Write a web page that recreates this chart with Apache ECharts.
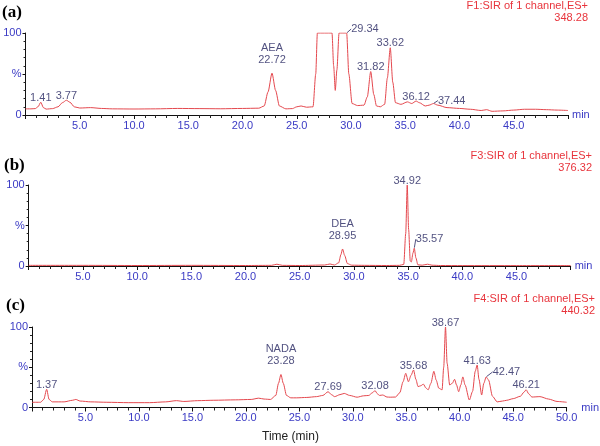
<!DOCTYPE html>
<html>
<head>
<meta charset="utf-8">
<script src="https://cdn.jsdelivr.net/npm/echarts@6/dist/echarts.min.js"></script>
<style>html,body{margin:0;padding:0;background:#fff;}#c{width:600px;height:446px;}</style>
</head>
<body>
<div id="c"></div>
<script>
// ---- Data (time in min, relative intensity %) ----
const timeA = [0.0,0.5,0.9,1.15,1.41,1.65,1.9,2.5,3.0,3.4,3.77,4.1,4.5,5.0,6.0,7.0,8.0,10.0,12.0,14.0,16.0,18.0,20.0,21.5,22.0,22.35,22.72,23.05,23.4,24.0,24.6,25.0,25.4,25.9,26.5,26.75,26.9,28.25,28.4,28.55,28.7,28.9,29.6,29.8,30.1,30.6,31.2,31.5,31.82,32.1,32.35,32.7,33.1,33.35,33.62,33.85,34.1,34.6,35.2,35.6,36.0,36.3,36.85,37.2,37.6,38.0,38.85,40.0,41.0,42.0,42.5,43.0,44.0,45.0,46.0,47.0,48.0,49.0,50.0];
const valA  = [7.5,7.5,7.8,10,15.5,9,7.2,7.8,10,15,18,15.5,10,8.5,9,8,7.5,7.3,7.5,8,7.8,7.6,8,8.3,11,28,51,30,11,7.5,7.8,10,11,9.5,10,50,100,100,60,30,55,100,100,50,14,11.5,12,22,53,25,11,10,13,45,82,40,15,13,16,14,17,15,11,12,14,12,9,8,7,5.5,6.5,4.5,5,6,7,7,6.5,6,5.5];

const timeB = [0,5,10,15,20,22.4,22.9,23.4,25,27.3,27.8,28.2,28.6,28.8,28.95,29.15,29.4,29.8,31,33,34.2,34.6,34.78,34.92,35.05,35.2,35.3,35.45,35.57,35.72,35.9,36.3,36.8,37.2,38,40,45,50];
const valB  = [0.8,0.8,0.6,0.8,0.6,0.8,2.2,0.8,0.6,1.2,2.5,1.2,4,14,21,13,3,1,0.8,0.6,0.8,2,40,100,45,6,5,16,22,10,1.5,1,2.2,1,0.6,0.5,0.5,0.5];

const timeC = [0,0.8,1.1,1.37,1.6,1.9,3.0,3.8,4.1,4.5,5.5,7,9,11,12.5,13.5,14.2,15.5,17,19,20.5,21.2,21.7,22.3,22.8,23.05,23.28,23.5,23.8,24.2,24.75,25.7,26.6,27.2,27.69,28.0,28.3,28.8,29.2,29.7,30.4,31.0,31.5,31.8,32.08,32.3,32.5,32.8,33.2,33.5,34.0,34.4,34.7,34.95,35.2,35.45,35.68,35.9,36.1,36.35,36.6,36.85,37.05,37.3,37.58,37.8,38.04,38.35,38.5,38.67,38.82,39.06,39.3,39.52,39.7,39.9,40.1,40.29,40.5,40.9,41.2,41.45,41.63,41.8,42.05,42.25,42.47,42.7,43.06,43.5,44.0,44.4,45.0,45.68,46.0,46.21,46.45,46.75,47.5,48.3,49.1,50];
const valC  = [6.5,6.5,10,22.6,10,7,7,9,10,8,7,6.5,6,6,7,8.5,7.5,8.5,9,9.5,10,11.6,10.5,10,15,30,41,30,15,12,12,12.5,13.5,15,19.6,16,13.5,16,17.5,15,12.8,14.5,15,18,21,17,15,15.5,13,12.8,13,18.5,32,42.5,32,40,46.6,35,26,27,29,24,22,30,45,34,24,22,50,100,55,28,30,35,28,19.6,28,38,28,9.3,20,45,52.8,35,15.5,30,38,34,14,7,8,9,11,14,19,22,17,13,13.5,10.5,7.5,6.5];

// Peak annotations
const peakTextA = ['1.41','3.77','AEA\n22.72','29.34','31.82','33.62','36.12','37.44'];
const peakTimeA = [1.41,3.77,22.72,29.6,31.82,33.62,36.0,37.6];
const peakValA  = [15.5,18,51,100,53,82,17,14];

const peakTextB = ['DEA\n28.95','34.92','35.57'];
const peakTimeB = [28.95,34.92,35.57];
const peakValB  = [21,100,22];

const peakTextC = ['1.37','NADA\n23.28','27.69','32.08','35.68','38.67','41.63','42.47','46.21'];
const peakTimeC = [1.37,23.28,27.69,32.08,35.68,38.67,41.63,42.47,46.21];
const peakValC  = [22.6,41,19.6,21,46.6,100,52.8,38,22];

// labels moved up-right of their peak, joined by a short leader line
const sideLabels = {'29.34': [4, -4], '37.44': [4, -3], '35.57': [1, -9], '42.47': [6, -5]};

const channelTitles = ['F1:SIR of 1 channel,ES+\n348.28','F3:SIR of 1 channel,ES+\n376.32','F4:SIR of 1 channel,ES+\n440.32'];
const panelLetters = ['(a)','(b)','(c)'];

// ---- Styles ----
const FONT = '"Liberation Sans", Arial, Helvetica, sans-serif';
const BLUE = '#3a3ac4';
const NAVY = '#262660';
const RED = '#e8343c';
const LINE = '#e4484e';

const zip = (t, v) => t.map((x, i) => [x, v[i]]);

const grids = [
  {left: 25.5, width: 542.5, top: 33, height: 82},
  {left: 28.7, width: 542, top: 185, height: 81},
  {left: 32, width: 541.5, top: 327, height: 80.5}
];

function xAxisFor(i, hide50) {
  return {
    type: 'value', gridIndex: i, min: 0, max: 50, interval: 5,
    name: 'min', nameLocation: 'end', nameGap: 4,
    nameTextStyle: {color: BLUE, fontSize: 11, fontFamily: FONT, verticalAlign: i===2 ? 'bottom' : 'middle', padding: i===2 ? [0,0,-6,0] : 0},
    axisLine: {show: true, onZero: false, lineStyle: {color: '#111', width: 1}},
    axisTick: {show: true, inside: false, length: 4, lineStyle: {color: '#111'}},
    minorTick: {show: true, splitNumber: 5, length: 3, lineStyle: {color: '#222'}},
    splitLine: {show: false},
    axisLabel: {color: BLUE, fontSize: 11, fontFamily: FONT, margin: 5,
      formatter: v => (v === 0 || (hide50 && v === 50)) ? '' : v.toFixed(1)}
  };
}
function yAxisFor(i) {
  return {
    type: 'value', gridIndex: i, min: 0, max: 100, interval: 50,
    axisLine: {show: true, lineStyle: {color: '#111', width: 1}},
    axisTick: {show: true, length: 3, lineStyle: {color: '#111'}},
    minorTick: {show: true, splitNumber: 5, length: 2, lineStyle: {color: '#222'}},
    splitLine: {show: false},
    axisLabel: {color: BLUE, fontSize: 11, fontFamily: FONT, margin: 4,
      formatter: v => v === 50 ? '%' : String(v)}
  };
}

function traceSeries(i, t, v) {
  return {
    type: 'line', xAxisIndex: i, yAxisIndex: i, data: zip(t, v),
    showSymbol: false, smooth: 0.25, smoothMonotone: 'x',
    lineStyle: {color: LINE, width: 1}, silent: true, z: 2
  };
}
function labelSeries(i, texts, t, v) {
  return {
    type: 'scatter', xAxisIndex: i, yAxisIndex: i, symbolSize: 1, silent: true, z: 5,
    itemStyle: {color: 'rgba(0,0,0,0)'},
    data: texts.map((s, k) => {
      const side = sideLabels[s];
      return {
        value: [t[k], v[k]],
        name: s,
        label: side ? {position: 'right', distance: 0, align: 'left', verticalAlign: 'middle'}
                    : {position: 'top', distance: s.indexOf('\n') >= 0 ? 7 : -2, align: 'center'},
        labelLine: {show: !!side}
      };
    }),
    label: {show: true, color: NAVY, fontSize: 11, fontFamily: FONT, lineHeight: 12,
      formatter: p => p.name},
    labelLine: {show: false, lineStyle: {color: NAVY, width: 0.8}},
    labelLayout: function (p) {
      const side = sideLabels[texts[p.dataIndex]];
      return side ? {dx: side[0], dy: side[1]} : {};
    }
  };
}

const chart = echarts.init(document.getElementById('c'), null, {renderer: 'canvas'});

const titleTops = [0, 150, 293];
const letterTops = [4, 157, 297];
const graphics = [];
channelTitles.forEach((s, i) => {
  graphics.push({type: 'text', right: [12, 8, 5][i], top: titleTops[i],
    style: {text: s, fill: RED, font: '11px ' + FONT, textAlign: 'right', lineHeight: 12}});
});
panelLetters.forEach((s, i) => {
  graphics.push({type: 'text', left: [2, 4, 6][i], top: letterTops[i],
    style: {text: s, fill: '#000', font: 'bold 17px "Liberation Serif", "Times New Roman", serif'}});
});
graphics.push({type: 'text', left: 262, top: 431,
  style: {text: 'Time (min)', fill: '#222', font: '12px ' + FONT}});

chart.setOption({
  backgroundColor: '#fff',
  animation: false,
  grid: grids,
  xAxis: [xAxisFor(0, true), xAxisFor(1, true), xAxisFor(2, false)],
  yAxis: [yAxisFor(0), yAxisFor(1), yAxisFor(2)],
  series: [
    traceSeries(0, timeA, valA), labelSeries(0, peakTextA, peakTimeA, peakValA),
    traceSeries(1, timeB, valB), labelSeries(1, peakTextB, peakTimeB, peakValB),
    traceSeries(2, timeC, valC), labelSeries(2, peakTextC, peakTimeC, peakValC)
  ],
  graphic: graphics
});
</script>
</body>
</html>
